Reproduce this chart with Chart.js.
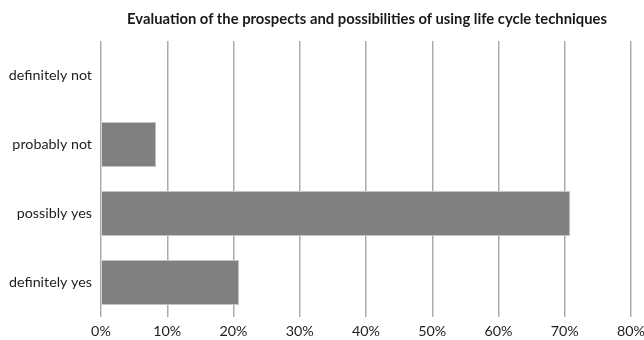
<!DOCTYPE html>
<html>
<head>
<meta charset="utf-8">
<script src="https://cdn.jsdelivr.net/npm/chart.js@4"></script>
<style>
  html,body{margin:0;padding:0;background:#fff;}
  #wrap{position:relative;width:644px;height:340px;}
  #title{position:absolute;top:9px;left:367px;transform:translateX(-50%);white-space:nowrap;
    font:bold 14.8px Lato,"Open Sans",sans-serif;color:#1a1a1a;}
</style>
</head>
<body>
<div id="wrap">
  <div id="title">Evaluation of the prospects and possibilities of using life cycle techniques</div>
  <canvas id="lcChart" width="644" height="340"></canvas>
</div>
<script>
// answer categories, top to bottom
const answers = ['definitely not', 'probably not', 'possibly yes', 'definitely yes'];
// share of respondents, %
const shares = [0, 8.33, 70.83, 20.83];
// x axis range and step, %
const xMax = 80;
const xStep = 10;

const FONT = {family: 'Lato, "Open Sans", sans-serif', size: 14.3};

new Chart(document.getElementById('lcChart'), {
  type: 'bar',
  data: {
    labels: answers,
    datasets: [{
      data: shares,
      backgroundColor: '#808080',
      borderColor: '#c4c4c4',
      borderWidth: 1,
      barPercentage: 0.65,
      categoryPercentage: 1
    }]
  },
  options: {
    indexAxis: 'y',
    responsive: false,
    animation: false,
    layout: {padding: {top: 41, right: 0, bottom: 0, left: 0}},
    plugins: {legend: {display: false}, tooltip: {enabled: false}, title: {display: false}},
    scales: {
      x: {
        min: 0, max: xMax,
        afterFit: s => { s.height = 23; s.paddingRight = 13; s.paddingLeft = 0; },
        grid: {color: '#ababab', lineWidth: 1.5, drawTicks: false},
        border: {display: false},
        ticks: {stepSize: xStep, padding: 6, color: '#1e1e1e', font: FONT, callback: v => v + '%'}
      },
      y: {
        afterFit: s => { s.width = 101; },
        grid: {display: false, drawTicks: false},
        border: {display: false},
        ticks: {padding: 9, color: '#1e1e1e', font: FONT}
      }
    }
  }
});
</script>
</body>
</html>
